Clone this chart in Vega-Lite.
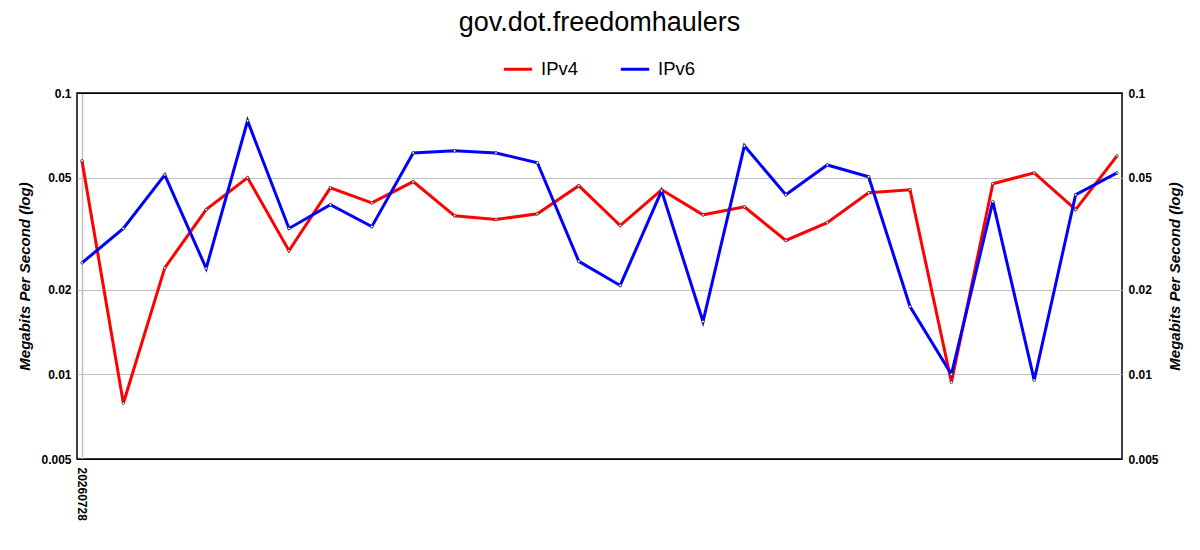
{
  "$schema": "https://vega.github.io/schema/vega-lite/v6.json",
  "description": "IPv4 vs IPv6 throughput for gov.dot.freedomhaulers, log scale.",
  "autosize": "none",
  "padding": {"left": 77, "top": 93, "right": 78, "bottom": 91},
  "width": 1045,
  "height": 366,
  "background": "white",
  "config": {
    "font": "Liberation Sans",
    "view": {"stroke": "black", "strokeWidth": 1.5},
    "axis": {"labelFont": "Liberation Sans", "titleFont": "Liberation Sans", "labelColor": "black", "titleColor": "black"}
  },
  "title": {
    "text": "gov.dot.freedomhaulers",
    "fontSize": 27,
    "fontWeight": "normal",
    "font": "Liberation Sans",
    "color": "black",
    "anchor": "middle",
    "offset": 16
  },
  "data": {
    "values": [
      {"run": 0, "protocol": "IPv4", "mbps": 0.0574},
      {"run": 1, "protocol": "IPv4", "mbps": 0.00789},
      {"run": 2, "protocol": "IPv4", "mbps": 0.0239},
      {"run": 3, "protocol": "IPv4", "mbps": 0.0385},
      {"run": 4, "protocol": "IPv4", "mbps": 0.0500},
      {"run": 5, "protocol": "IPv4", "mbps": 0.0275},
      {"run": 6, "protocol": "IPv4", "mbps": 0.0460},
      {"run": 7, "protocol": "IPv4", "mbps": 0.0407},
      {"run": 8, "protocol": "IPv4", "mbps": 0.0484},
      {"run": 9, "protocol": "IPv4", "mbps": 0.0366},
      {"run": 10, "protocol": "IPv4", "mbps": 0.0355},
      {"run": 11, "protocol": "IPv4", "mbps": 0.0372},
      {"run": 12, "protocol": "IPv4", "mbps": 0.0468},
      {"run": 13, "protocol": "IPv4", "mbps": 0.0338},
      {"run": 14, "protocol": "IPv4", "mbps": 0.0453},
      {"run": 15, "protocol": "IPv4", "mbps": 0.0369},
      {"run": 16, "protocol": "IPv4", "mbps": 0.0394},
      {"run": 17, "protocol": "IPv4", "mbps": 0.0299},
      {"run": 18, "protocol": "IPv4", "mbps": 0.0346},
      {"run": 19, "protocol": "IPv4", "mbps": 0.0442},
      {"run": 20, "protocol": "IPv4", "mbps": 0.0453},
      {"run": 21, "protocol": "IPv4", "mbps": 0.00937},
      {"run": 22, "protocol": "IPv4", "mbps": 0.0476},
      {"run": 23, "protocol": "IPv4", "mbps": 0.0520},
      {"run": 24, "protocol": "IPv4", "mbps": 0.0385},
      {"run": 25, "protocol": "IPv4", "mbps": 0.0598},
      {"run": 0, "protocol": "IPv6", "mbps": 0.0249},
      {"run": 1, "protocol": "IPv6", "mbps": 0.0330},
      {"run": 2, "protocol": "IPv6", "mbps": 0.0512},
      {"run": 3, "protocol": "IPv6", "mbps": 0.0238},
      {"run": 4, "protocol": "IPv6", "mbps": 0.0796},
      {"run": 5, "protocol": "IPv6", "mbps": 0.0330},
      {"run": 6, "protocol": "IPv6", "mbps": 0.0401},
      {"run": 7, "protocol": "IPv6", "mbps": 0.0335},
      {"run": 8, "protocol": "IPv6", "mbps": 0.0612},
      {"run": 9, "protocol": "IPv6", "mbps": 0.0623},
      {"run": 10, "protocol": "IPv6", "mbps": 0.0612},
      {"run": 11, "protocol": "IPv6", "mbps": 0.0565},
      {"run": 12, "protocol": "IPv6", "mbps": 0.0252},
      {"run": 13, "protocol": "IPv6", "mbps": 0.0207},
      {"run": 14, "protocol": "IPv6", "mbps": 0.0449},
      {"run": 15, "protocol": "IPv6", "mbps": 0.0154},
      {"run": 16, "protocol": "IPv6", "mbps": 0.0649},
      {"run": 17, "protocol": "IPv6", "mbps": 0.0435},
      {"run": 18, "protocol": "IPv6", "mbps": 0.0555},
      {"run": 19, "protocol": "IPv6", "mbps": 0.0504},
      {"run": 20, "protocol": "IPv6", "mbps": 0.0174},
      {"run": 21, "protocol": "IPv6", "mbps": 0.0100},
      {"run": 22, "protocol": "IPv6", "mbps": 0.0411},
      {"run": 23, "protocol": "IPv6", "mbps": 0.00953},
      {"run": 24, "protocol": "IPv6", "mbps": 0.0435},
      {"run": 25, "protocol": "IPv6", "mbps": 0.0520}
    ]
  },
  "encoding": {
    "x": {
      "field": "run",
      "type": "quantitative",
      "scale": {"domain": [-0.12, 25.12], "nice": false, "zero": false},
      "axis": {
        "title": null,
        "values": [0],
        "labelExpr": "datum.value == 0 ? '20260728' : ''",
        "labelAngle": 90,
        "labelAlign": "left",
        "labelBaseline": "middle",
        "labelFontSize": 12,
        "labelFontWeight": "bold",
        "labelPadding": 8,
        "ticks": false,
        "domain": false,
        "grid": true,
        "gridColor": "#c0c0c0",
        "gridWidth": 1.5
      }
    },
    "y": {
      "field": "mbps",
      "type": "quantitative",
      "scale": {"type": "log", "domain": [0.005, 0.1], "nice": false}
    }
  },
  "layer": [
    {
      "mark": {"type": "line", "strokeWidth": 3},
      "encoding": {
        "y": {
          "field": "mbps",
          "type": "quantitative",
          "axis": {
            "orient": "left",
            "title": "Megabits Per Second (log)",
            "titleFontSize": 15,
            "titleFontWeight": "bold",
            "titleFontStyle": "italic",
            "titlePadding": 8,
            "values": [0.005, 0.01, 0.02, 0.05, 0.1],
            "format": "~g",
            "labelFontSize": 12,
            "labelFontWeight": "bold",
            "labelPadding": 6,
            "ticks": false,
            "domain": false,
            "grid": true,
            "gridColor": {
              "condition": {"test": "datum.value >= 0.09 || datum.value <= 0.0055", "value": "black"},
              "value": "#c0c0c0"
            },
            "gridWidth": 1
          }
        },
        "color": {
          "field": "protocol",
          "type": "nominal",
          "scale": {"domain": ["IPv4", "IPv6"], "range": ["#ff0000", "#0000ff"]},
          "legend": {
            "title": null,
            "orient": "none",
            "legendX": 425,
            "legendY": -40,
            "direction": "horizontal",
            "symbolType": "stroke",
            "symbolSize": 800,
            "symbolStrokeWidth": 3,
            "labelFontSize": 18.5,
            "labelFont": "Liberation Sans",
            "labelColor": "black",
            "labelOffset": 7,
            "columnPadding": 35
          }
        }
      }
    },
    {
      "mark": {"type": "point", "filled": true, "size": 7, "color": "white", "stroke": "black", "strokeWidth": 0.6, "opacity": 1},
      "encoding": {
        "detail": {"field": "protocol", "type": "nominal"},
        "y": {
          "field": "mbps",
          "type": "quantitative",
          "axis": {
            "orient": "right",
            "title": "Megabits Per Second (log)",
            "titleAngle": 270,
            "titleFontSize": 15,
            "titleFontWeight": "bold",
            "titleFontStyle": "italic",
            "titlePadding": 24,
            "values": [0.005, 0.01, 0.02, 0.05, 0.1],
            "format": "~g",
            "labelFontSize": 12,
            "labelFontWeight": "bold",
            "labelPadding": 6,
            "ticks": false,
            "domain": false,
            "grid": false
          }
        }
      }
    }
  ],
  "resolve": {"axis": {"y": "independent"}}
}
